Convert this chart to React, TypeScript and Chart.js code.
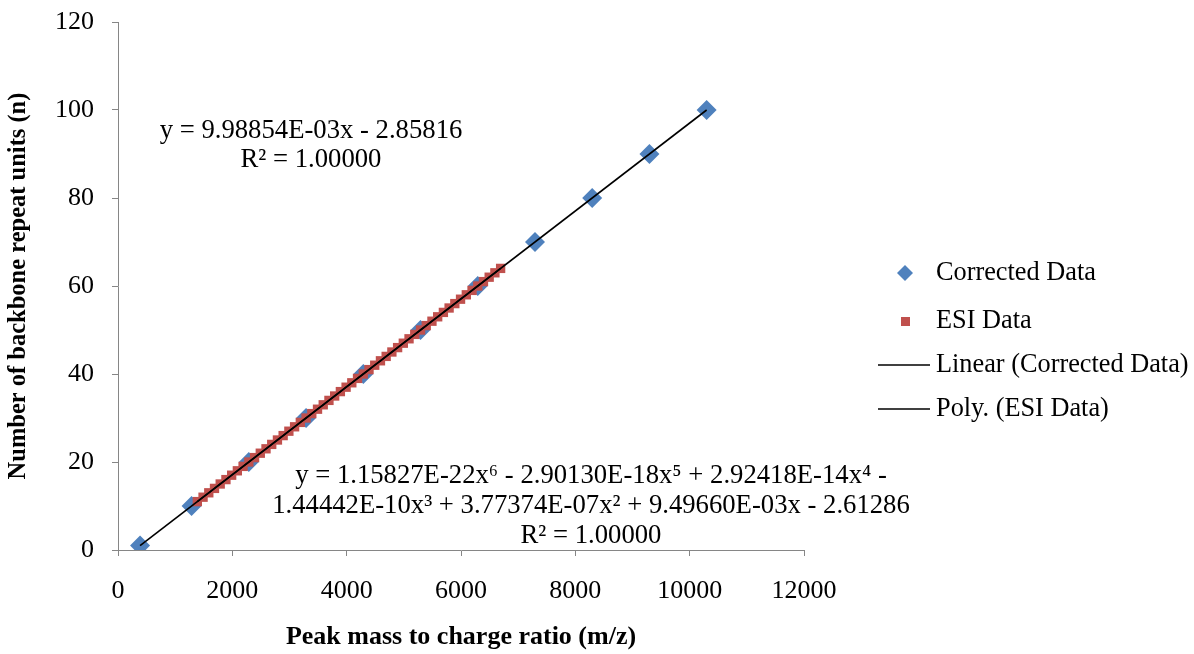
import React, { useEffect, useRef } from 'react';
import { Chart, registerables } from 'chart.js';

Chart.register(...registerables);

const FONT = "'Liberation Serif', 'Times New Roman', serif";

// Corrected Data (m/z, n)
const correctedX = [386, 1287, 2288, 3290, 4291, 5292, 6293, 7294, 8295, 9296, 10297];
const correctedY = [1, 10, 20, 30, 40, 50, 60, 70, 80, 90, 100];

// ESI Data (m/z, n)
const esiX = [
  1388, 1488, 1588, 1688, 1788, 1888, 1988, 2088, 2188, 2288,
  2389, 2489, 2589, 2689, 2789, 2889, 2989, 3089, 3189, 3290,
  3390, 3490, 3590, 3690, 3790, 3890, 3990, 4090, 4190, 4291,
  4391, 4491, 4591, 4691, 4791, 4891, 4991, 5091, 5191, 5292,
  5392, 5492, 5592, 5692, 5792, 5892, 5992, 6093, 6193, 6293,
  6393, 6493, 6593, 6693,
];
const esiY = [
  11, 12, 13, 14, 15, 16, 17, 18, 19, 20,
  21, 22, 23, 24, 25, 26, 27, 28, 29, 30,
  31, 32, 33, 34, 35, 36, 37, 38, 39, 40,
  41, 42, 43, 44, 45, 46, 47, 48, 49, 50,
  51, 52, 53, 54, 55, 56, 57, 58, 59, 60,
  61, 62, 63, 64,
];

const seriesNames = ['Corrected Data', 'ESI Data', 'Linear (Corrected Data)', 'Poly. (ESI Data)'];
const linearLabel = ['y = 9.98854E-03x - 2.85816', 'R² = 1.00000'];
const polyLabel = [
  'y = 1.15827E-22x⁶ - 2.90130E-18x⁵ + 2.92418E-14x⁴ -',
  '1.44442E-10x³ + 3.77374E-07x² + 9.49660E-03x - 2.61286',
  'R² = 1.00000',
];
const xTitle = 'Peak mass to charge ratio (m/z)';
const yTitle = 'Number of backbone repeat units (n)';

const BLUE = '#4F81BD';
const RED = '#C0504D';
const AXIS = '#868686';

const overlayPlugin = {
  id: 'overlay',
  afterDatasetsDraw(chart: any) {
    const ctx = chart.ctx as CanvasRenderingContext2D;
    ctx.save();
    ctx.fillStyle = '#000';
    ctx.textBaseline = 'middle';
    ctx.textAlign = 'center';
    ctx.font = `26.7px ${FONT}`;
    ctx.fillText(linearLabel[0], 311, 131);
    ctx.fillText(linearLabel[1], 311, 160);
    ctx.fillText(polyLabel[0], 591, 476);
    ctx.fillText(polyLabel[1], 591, 506);
    ctx.fillText(polyLabel[2], 591, 536);

    // legend
    const tx = 936;
    const ys = [273, 321, 365, 409];
    ctx.textAlign = 'left';
    ctx.font = `26.3px ${FONT}`;
    // diamond
    ctx.fillStyle = BLUE;
    ctx.beginPath();
    ctx.moveTo(905, ys[0] - 8);
    ctx.lineTo(913, ys[0]);
    ctx.lineTo(905, ys[0] + 8);
    ctx.lineTo(897, ys[0]);
    ctx.closePath();
    ctx.fill();
    // square
    ctx.fillStyle = RED;
    ctx.fillRect(901, ys[1] - 4, 9, 9);
    // lines
    ctx.strokeStyle = '#000';
    ctx.lineWidth = 1.5;
    for (const y of [ys[2], ys[3]]) {
      ctx.beginPath();
      ctx.moveTo(878, y);
      ctx.lineTo(930, y);
      ctx.stroke();
    }
    ctx.fillStyle = '#000';
    seriesNames.forEach((name, i) => ctx.fillText(name, tx, ys[i]));
    ctx.restore();
  },
};

export default function App() {
  const ref = useRef<HTMLCanvasElement>(null);

  useEffect(() => {
    document.body.style.margin = '0';
    const corrected = correctedX.map((x, i) => ({ x, y: correctedY[i] }));
    const esi = esiX.map((x, i) => ({ x, y: esiY[i] }));
    const linear = [corrected[0], corrected[corrected.length - 1]];

    const chart = new Chart(ref.current as HTMLCanvasElement, {
      type: 'scatter',
      data: {
        datasets: [
          {
            label: seriesNames[0],
            data: corrected,
            pointStyle: 'rectRot',
            pointRadius: 10,
            backgroundColor: BLUE,
            borderColor: BLUE,
            borderWidth: 0,
            order: 3,
          },
          {
            label: seriesNames[1],
            data: esi,
            pointStyle: 'rect',
            pointRadius: 6.6,
            backgroundColor: RED,
            borderColor: RED,
            borderWidth: 0,
            order: 2,
          },
          {
            label: seriesNames[2],
            data: linear,
            showLine: true,
            pointRadius: 0,
            borderColor: '#000',
            borderWidth: 1.6,
            order: 1,
          },
          {
            label: seriesNames[3],
            data: esi,
            showLine: true,
            pointRadius: 0,
            borderColor: '#000',
            borderWidth: 1.6,
            order: 0,
          },
        ],
      },
      options: {
        responsive: false,
        animation: false,
        layout: { padding: { left: 0, top: 22, right: 390, bottom: 0 } },
        plugins: { legend: { display: false }, tooltip: { enabled: false } },
        scales: {
          x: {
            type: 'linear',
            min: 0,
            max: 12000,
            ticks: {
              stepSize: 2000,
              color: '#000',
              font: { family: FONT, size: 26 },
              padding: 20,
              maxRotation: 0,
              callback: (v: any) => String(v),
            },
            grid: { drawOnChartArea: false, drawTicks: true, tickLength: 6, color: AXIS },
            border: { display: true, color: AXIS, width: 1 },
            title: {
              display: true,
              text: xTitle,
              color: '#000',
              font: { family: FONT, size: 26, weight: 'bold' },
              padding: { top: 0, bottom: 1 },
            },
            afterFit: (s: any) => {
              s.height = 104;
              s.paddingLeft = 0;
              s.paddingRight = 0;
            },
          },
          y: {
            type: 'linear',
            min: 0,
            max: 120,
            ticks: {
              stepSize: 20,
              color: '#000',
              font: { family: FONT, size: 26 },
              padding: 18,
              callback: (v: any) => String(v),
            },
            grid: { drawOnChartArea: false, drawTicks: true, tickLength: 6, color: AXIS },
            border: { display: true, color: AXIS, width: 1 },
            title: {
              display: true,
              text: yTitle,
              color: '#000',
              font: { family: FONT, size: 24.5, weight: 'bold' },
              padding: { top: 4, bottom: 0 },
            },
            afterFit: (s: any) => {
              s.width = 118;
              s.paddingTop = 0;
              s.paddingBottom = 0;
            },
          },
        },
      },
      plugins: [overlayPlugin],
    });
    return () => chart.destroy();
  }, []);

  return (
    <div style={{ position: 'absolute', left: 0, top: 0, width: 1194, height: 654, background: '#fff' }}>
      <canvas ref={ref} width={1194} height={654} />
    </div>
  );
}
